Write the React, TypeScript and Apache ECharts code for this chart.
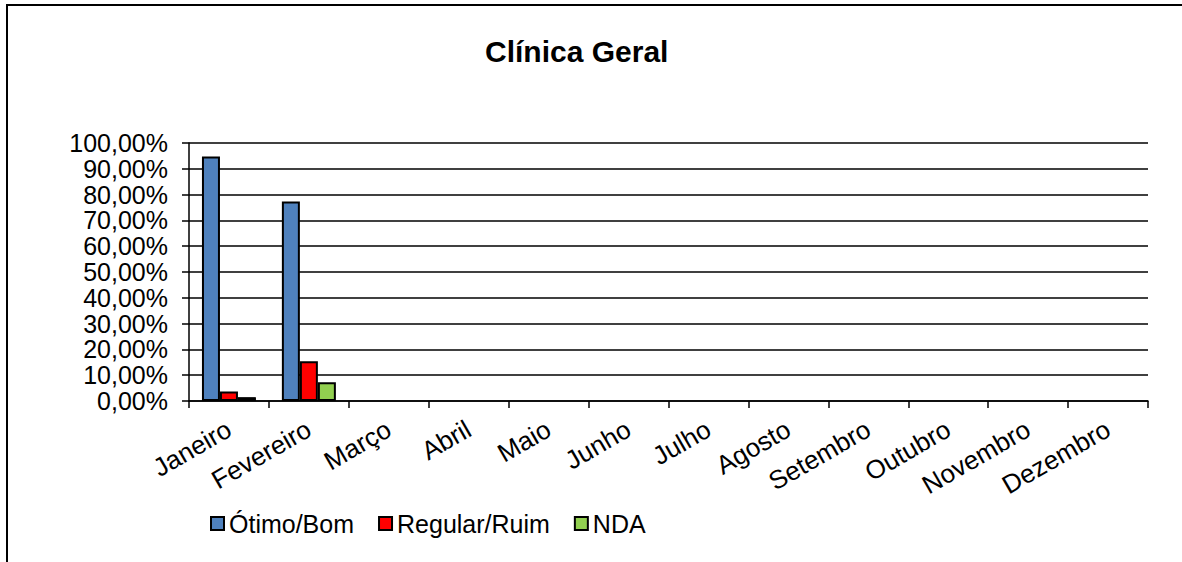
import React, { useEffect, useRef } from "react";
import * as echarts from "echarts";

const title = "Clínica Geral";
const months = [
  "Janeiro", "Fevereiro", "Março", "Abril", "Maio", "Junho",
  "Julho", "Agosto", "Setembro", "Outubro", "Novembro", "Dezembro",
];
const seriesNames = ["Ótimo/Bom", "Regular/Ruim", "NDA"];
const otimoBom = [94.8, 77.3, null, null, null, null, null, null, null, null, null, null];
const regularRuim = [3.7, 15.4, null, null, null, null, null, null, null, null, null, null];
const nda = [1.5, 7.3, null, null, null, null, null, null, null, null, null, null];
const colors = ["#4F81BD", "#FF0000", "#92D050"];
const yMin = 0;
const yMax = 100;
const yInterval = 10;

const FONT = "'Liberation Sans', Arial, sans-serif";

export default function App() {
  const ref = useRef<HTMLDivElement>(null);
  useEffect(() => {
    if (!ref.current) return;
    const chart = echarts.init(ref.current, null, { renderer: "svg" });
    const values = [otimoBom, regularRuim, nda];
    chart.setOption({
      animation: false,
      backgroundColor: "#ffffff",
      textStyle: { fontFamily: FONT, color: "#000" },
      title: {
        text: title,
        left: 480,
        top: 31,
        textStyle: { fontFamily: FONT, fontSize: 30, fontWeight: "bold", color: "#000" },
      },
      graphic: [
        {
          type: "rect",
          shape: { x: 7, y: 5, width: 1300, height: 700 },
          style: { fill: "none", stroke: "#000", lineWidth: 2 },
          silent: true,
        },
      ],
      legend: {
        left: 205,
        top: 506,
        itemWidth: 13,
        itemHeight: 13,
        itemGap: 24,
        icon: "rect",
        itemStyle: { borderColor: "#000", borderWidth: 2 },
        textStyle: { fontFamily: FONT, fontSize: 25, color: "#000" },
        data: seriesNames,
      },
      grid: { left: 189, right: 34, top: 143, bottom: 161, containLabel: false },
      xAxis: {
        type: "category",
        data: months,
        boundaryGap: true,
        axisLine: { show: true, lineStyle: { color: "#000", width: 1.5 } },
        axisTick: { show: true, interval: 0, length: 7, lineStyle: { color: "#000", width: 1.5 } },
        axisLabel: {
          interval: 0,
          rotate: 30,
          margin: 26,
          fontFamily: FONT,
          fontSize: 26,
          color: "#000",
        },
        splitLine: { show: false },
      },
      yAxis: {
        type: "value",
        min: yMin,
        max: yMax,
        interval: yInterval,
        axisLine: { show: true, lineStyle: { color: "#000", width: 1.5 } },
        axisTick: { show: true, length: 7, lineStyle: { color: "#000", width: 1.5 } },
        axisLabel: {
          margin: 21,
          fontFamily: FONT,
          fontSize: 25,
          color: "#000",
          formatter: (v: number) => v.toFixed(2).replace(".", ",") + "%",
        },
        splitLine: { show: true, lineStyle: { color: "#000", width: 1.5 } },
      },
      series: seriesNames.map((name, i) => ({
        name,
        type: "bar",
        data: values[i],
        barWidth: 18,
        barGap: "0%",
        itemStyle: { color: colors[i], borderColor: "#000", borderWidth: 2 },
      })),
    });
    return () => chart.dispose();
  }, []);
  return (
    <div
      ref={ref}
      style={{ position: "fixed", left: 0, top: 0, width: 1182, height: 562, background: "#fff" }}
    />
  );
}
